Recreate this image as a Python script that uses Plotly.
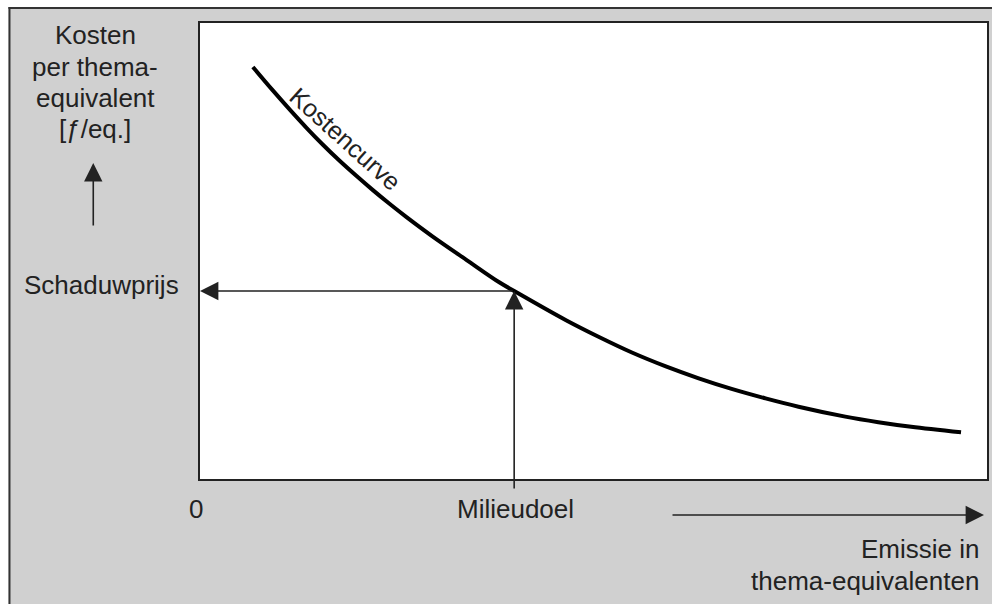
import plotly.graph_objects as go

# Cost curve (x: emission 0-100, y: cost per equivalent 0-100)
curve_x = [6.72, 9.25, 11.41, 13.56, 15.59, 17.74, 19.90, 21.93, 24.08, 26.24, 29.53, 33.84, 38.02,
           39.92, 46.51, 50.70, 54.88, 59.19, 63.37, 67.55, 71.86, 76.05, 82.00, 86.19, 90.37, 96.70]
curve_y = [90.35, 85.22, 81.01, 76.97, 73.36, 69.78, 66.43, 63.40, 60.35, 57.43, 53.22, 48.07, 43.14,
           41.23, 34.82, 31.14, 27.74, 24.69, 22.08, 19.76, 17.68, 15.86, 13.68, 12.46, 11.45, 10.24]

# Environmental target on the curve
target_x = 39.92
target_y = 41.23

y_title_lines = ["Kosten", "per thema-", "equivalent", "[\u0192/eq.]"]
x_title_lines = ["Emissie in", "thema-equivalenten"]
curve_label = "Kostencurve"
shadow_label = "Schaduwprijs"
target_label = "Milieudoel"
origin_label = "0"

W, H = 992, 604
PLOT_L, PLOT_R, PLOT_T, PLOT_B = 200, 989, 23, 479   # pixels
L, R, T, B = PLOT_L, W - PLOT_R, PLOT_T, H - PLOT_B
PW, PH = PLOT_R - PLOT_L, PLOT_B - PLOT_T

def px(sx):
    return (sx - PLOT_L) / PW

def py(sy):
    return (PLOT_B - sy) / PH

FONT = "Liberation Sans, Arial, sans-serif"
TXT = "#222222"
FS = 26

fig = go.Figure()
fig.add_trace(go.Scatter(x=curve_x, y=curve_y, mode="lines",
                         line=dict(color="black", width=4, shape="spline", smoothing=1.0),
                         hoverinfo="skip", showlegend=False))

def label(text, sx, sy, xanchor="center", size=FS):
    return dict(text=text, xref="paper", yref="paper", x=px(sx), y=py(sy),
                xanchor=xanchor, yanchor="middle", showarrow=False,
                font=dict(size=size, color=TXT, family=FONT))

ARROW = dict(showarrow=True, arrowhead=2, arrowsize=2.3, arrowwidth=1.6,
             arrowcolor=TXT, standoff=0, text="")

ann = []
for t, yc in zip(y_title_lines, [35, 67, 98, 129]):
    ann.append(label(t, 95, yc))
# up arrow (y direction)
ann.append(dict(xref="paper", yref="paper", x=px(93), y=py(163), ax=0, ay=64, **ARROW))
ann.append(label(shadow_label, 101, 285))
# horizontal arrow to the shadow price
ann.append(dict(x=0, y=target_y, xref="x", yref="y",
                ax=target_x, ay=target_y, axref="x", ayref="y", **ARROW))
# vertical arrow from the target up to the curve
ann.append(dict(x=target_x, y=target_y, xref="x", yref="y",
                ax=target_x, ay=-2.4, axref="x", ayref="y", **ARROW))
ann.append(label(origin_label, 196, 509))
ann.append(label(target_label, 516, 509))
# x direction arrow
ann.append(dict(xref="paper", yref="paper", x=px(986), y=py(515), ax=-313, ay=0, **ARROW))
for t, yc in zip(x_title_lines, [549, 581]):
    ann.append(label(t, 983, yc, xanchor="right"))
# curve label
ann.append(dict(text=curve_label, x=18.5, y=74.6, xref="x", yref="y",
                xanchor="center", yanchor="middle", showarrow=False, textangle=42,
                font=dict(size=25, color=TXT, family=FONT)))

shapes = [
    # white page strips above and left of the grey panel
    dict(type="rect", xref="paper", yref="paper", x0=px(-2), x1=px(W + 2), y0=py(7), y1=py(-2),
         fillcolor="white", line=dict(width=0), layer="below"),
    dict(type="rect", xref="paper", yref="paper", x0=px(-2), x1=px(8), y0=py(H + 2), y1=py(-2),
         fillcolor="white", line=dict(width=0), layer="below"),
    dict(type="line", xref="paper", yref="paper", x0=px(8), x1=px(W + 2), y0=py(8), y1=py(8),
         line=dict(color="#333333", width=2)),
    dict(type="line", xref="paper", yref="paper", x0=px(9), x1=px(9), y0=py(7), y1=py(H + 2),
         line=dict(color="#333333", width=2)),
]

axis_common = dict(showgrid=False, zeroline=False, showticklabels=False, ticks="",
                   showline=True, mirror=True, linecolor="#222222", linewidth=2, fixedrange=True)

fig.update_layout(
    width=W, height=H,
    margin=dict(l=L, r=R, t=T, b=B),
    paper_bgcolor="#d0d0d0", plot_bgcolor="white",
    xaxis=dict(range=[0, 100], **axis_common),
    yaxis=dict(range=[0, 100], **axis_common),
    annotations=ann, shapes=shapes, showlegend=False,
)

fig.write_html(
    "out.html",
    config={"displayModeBar": False, "staticPlot": True},
    post_script="document.body.style.margin='0';document.body.style.overflow='hidden';",
)
